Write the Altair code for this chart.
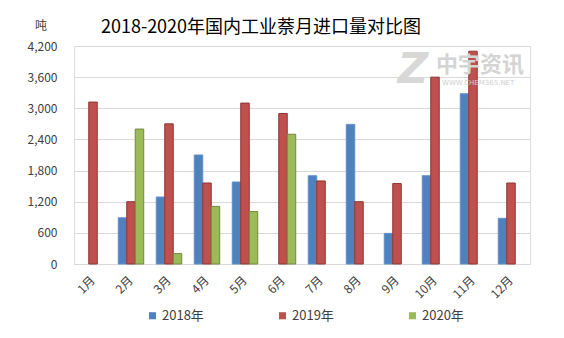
import altair as alt
import pandas as pd

months = ["1月", "2月", "3月", "4月", "5月", "6月", "7月", "8月", "9月", "10月", "11月", "12月"]
years = ["2018年", "2019年", "2020年"]
v2018 = [None, 890, 1290, 2100, 1580, None, 1700, 2690, 590, 1700, 3280, 880]
v2019 = [3120, 1200, 2700, 1560, 3100, 2900, 1600, 1200, 1550, 3600, 4100, 1560]
v2020 = [None, 2600, 200, 1110, 1010, 2500, None, None, None, None, None, None]
y_ticks = [0, 600, 1200, 1800, 2400, 3000, 3600, 4200]

fills = ["#4F81BD", "#C0504D", "#9BBB59"]
strokes = ["#5E8FCC", "#8C3533", "#71893F"]

rows = []
for yr, vals in zip(years, [v2018, v2019, v2020]):
    for m, v in zip(months, vals):
        rows.append({"month": m, "year": yr, "value": v})
df = pd.DataFrame(rows)

FONT = "Noto Sans CJK SC"

bars = alt.Chart(df).mark_bar(strokeWidth=1).encode(
    x=alt.X("month:N", sort=months,
            scale=alt.Scale(paddingInner=0.33, paddingOuter=0.165),
            axis=alt.Axis(title=None, labelAngle=-45, labelAlign="right",
                          labelBaseline="middle", labelPadding=14, ticks=False,
                          domainColor="#d9d9d9", labelFontSize=12,
                          labelColor="#404040", labelFont=FONT)),
    xOffset=alt.XOffset("year:N", scale=alt.Scale(domain=years, paddingInner=0, paddingOuter=0)),
    y=alt.Y("value:Q", scale=alt.Scale(domain=[0, 4200]),
            axis=alt.Axis(values=y_ticks, format=",.0f", title=None,
                          ticks=False, domain=False, labelPadding=17,
                          labelFontSize=12, labelColor="#404040", labelFont=FONT,
                          gridColor="#d9d9d9")),
    color=alt.Color("year:N", scale=alt.Scale(domain=years, range=fills),
                    legend=alt.Legend(title=None, orient="none", direction="horizontal",
                                      legendX=72, legendY=263, symbolType="square",
                                      symbolSize=50, symbolStrokeWidth=0,
                                      columnPadding=72, labelFontSize=13,
                                      labelColor="#404040", labelFont=FONT,
                                      labelOffset=3)),
    stroke=alt.Stroke("year:N", scale=alt.Scale(domain=years, range=strokes), legend=None),
)

one = pd.DataFrame({"t": ["x"]})
title = alt.Chart(one).mark_text(font=FONT, fontSize=18, color="#000000",
                                 align="center", baseline="middle").encode(
    text=alt.value("2018-2020年国内工业萘月进口量对比图"), x=alt.value(187), y=alt.value(-18))
unit = alt.Chart(one).mark_text(font=FONT, fontSize=12, color="#404040",
                                align="center", baseline="middle").encode(
    text=alt.value("吨"), x=alt.value(-33), y=alt.value(-20))
wm1 = alt.Chart(one).mark_text(font=FONT, fontSize=22, fontWeight="bold", color="#d4d4d4",
                               align="left", baseline="middle").encode(
    text=alt.value("中宇资讯"), x=alt.value(362), y=alt.value(19))
wm2 = alt.Chart(one).mark_text(font="DejaVu Sans", fontSize=7, color="#cfcfcf",
                               align="left", baseline="middle").encode(
    text=alt.value("WWW.CHEM365.NET"), x=alt.value(368), y=alt.value(37))
wm3 = alt.Chart(one).mark_text(font="DejaVu Sans", fontSize=42, fontWeight="bold",
                               fontStyle="italic", color="#d8d8d8",
                               align="center", baseline="middle").encode(
    text=alt.value("Z"), x=alt.value(339), y=alt.value(24))

chart = alt.layer(bars, wm3, wm1, wm2, title, unit).properties(
    width=456, height=218,
    autosize=alt.AutoSizeParams(type="none"),
    padding={"left": 74, "top": 46, "right": 34, "bottom": 74},
).configure_view(stroke=None).configure(background="white")

chart.save("out.html", embed_options={"renderer": "svg", "actions": False})
